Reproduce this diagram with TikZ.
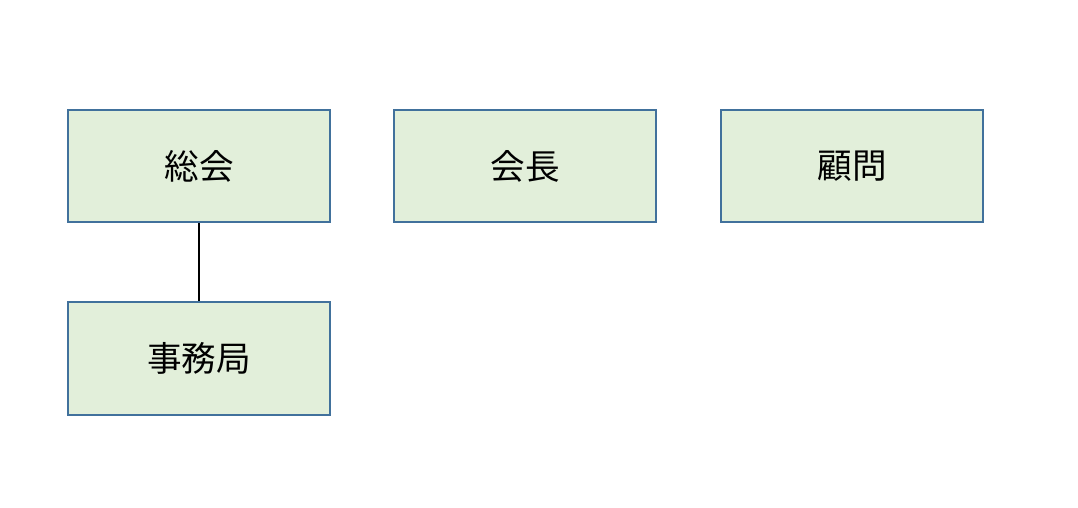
\documentclass[tikz,border=0pt]{standalone}
\usepackage{fontspec}
\newfontfamily\cjk{Noto Sans CJK JP}
\definecolor{orgblue}{RGB}{65,113,156}
\definecolor{orggreen}{RGB}{226,239,218}

\begin{document}
\begin{tikzpicture}[
  x=0.5pt, y=-0.5pt,
  box/.style={rectangle, draw=orgblue, fill=orggreen, line width=1pt, minimum width=131pt, minimum height=56pt, inner sep=0pt, font=\cjk\fontsize{17.3}{20}\selectfont},
  link/.style={draw=black, line width=1pt}
]
\useasboundingbox (0,0) rectangle (1078,508);

% Top row
\node[box] (soukai) at (199,166) {総会};
\node[box] (kaichou) at (525,166.5) {会長};
\node[box] (komon) at (852,166.5) {顧問};

% Bottom row
\node[box] (jimukyoku) at (199,358.5) {事務局};

% Lines
\draw[link] (soukai) -- (jimukyoku);

\end{tikzpicture}
\end{document}
